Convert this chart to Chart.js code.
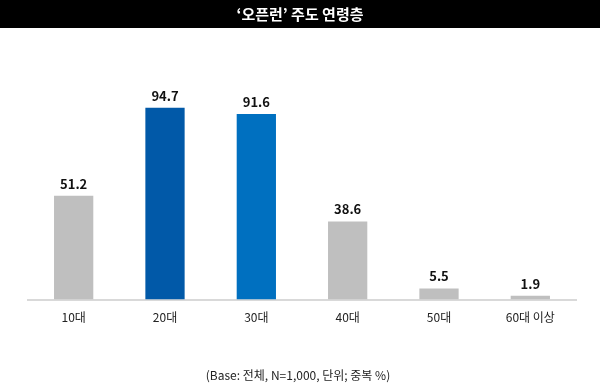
<!DOCTYPE html>
<html>
<head>
<meta charset="utf-8">
<script src="https://cdn.jsdelivr.net/npm/chart.js@4"></script>
<style>
  html, body { margin: 0; padding: 0; background: #fff; }
  canvas { display: block; }
</style>
</head>
<body>
<canvas id="myChart" width="600" height="391"></canvas>
<script>
const titleText = "‘오픈런’ 주도 연령층";
const footText = "(Base: 전체, N=1,000, 단위; 중복 %)";
const labels = ["10대", "20대", "30대", "40대", "50대", "60대 이상"];
const scores = [51.2, 94.7, 91.6, 38.6, 5.5, 1.9];
const colors = ["#BFBFBF", "#0159A8", "#0070C0", "#BFBFBF", "#BFBFBF", "#BFBFBF"];

const fontKR = "'Noto Sans CJK KR', 'Noto Sans', sans-serif";

// title bar, footer and value labels
const extras = {
	id: "extras",
	beforeDraw(chart) {
		const c = chart.ctx;
		c.save();
		c.fillStyle = "#fff";
		c.fillRect(0, 0, chart.width, chart.height);
		c.fillStyle = "#000";
		c.fillRect(0, 0, chart.width, 28);
		c.fillStyle = "#fff";
		c.font = "bold 15px " + fontKR;
		c.textAlign = "center";
		c.textBaseline = "middle";
		c.fillText(titleText, chart.width / 2, 14);
		c.fillStyle = "#222";
		c.font = "12px " + fontKR;
		c.fillText(footText, chart.width / 2 - 2, 375);
		c.restore();
	},
	afterDatasetsDraw(chart) {
		const c = chart.ctx;
		const meta = chart.getDatasetMeta(0);
		c.save();
		c.fillStyle = "#111";
		c.font = "bold 13px " + fontKR;
		c.textAlign = "center";
		c.textBaseline = "alphabetic";
		meta.data.forEach((bar, i) => {
			c.fillText(scores[i].toFixed(1), bar.x, bar.y - 7);
		});
		c.restore();
	}
};

new Chart(document.getElementById("myChart").getContext("2d"), {
	type: "bar",
	data: {
		labels: labels,
		datasets: [{
			data: scores,
			backgroundColor: colors,
			borderWidth: 0,
			barPercentage: 0.43,
			categoryPercentage: 1
		}]
	},
	options: {
		responsive: false,
		animation: false,
		layout: { padding: { left: 28, right: 24, top: 97, bottom: 55 } },
		plugins: {
			legend: { display: false },
			tooltip: { enabled: false }
		},
		scales: {
			x: {
				grid: { display: false, drawTicks: false },
				border: { display: true, color: "#D9D9D9", width: 2 },
				ticks: {
					color: "#222",
					padding: 11,
					font: { family: fontKR, size: 12 }
				}
			},
			y: {
				display: false,
				min: 0,
				max: 100
			}
		}
	},
	plugins: [extras]
});
</script>
</body>
</html>
